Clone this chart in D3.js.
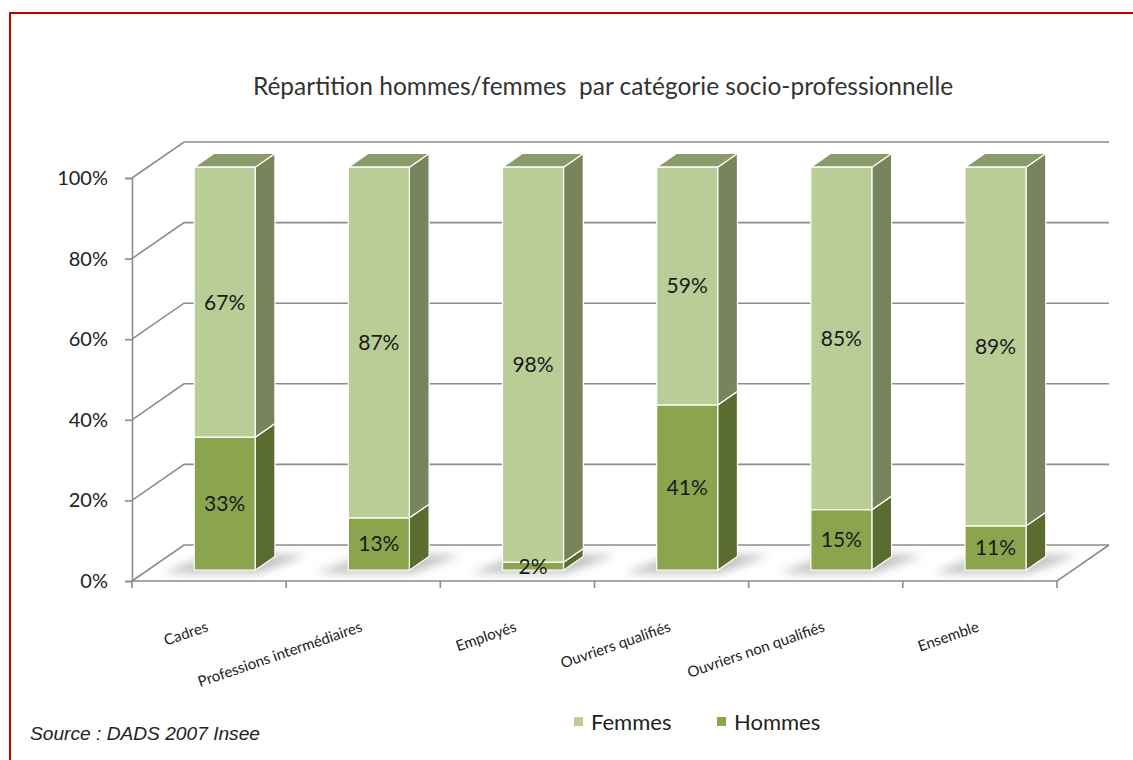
<!DOCTYPE html>
<html>
<head>
<meta charset="utf-8">
<script src="https://cdn.jsdelivr.net/npm/d3@7"></script>
<style>
  body { margin: 0; background: #fff; }
  svg { display: block; }
</style>
</head>
<body>
<svg id="chart" width="1133" height="760"></svg>
<script>
// data
const categories = ["Cadres", "Professions intermédiaires", "Employés", "Ouvriers qualifiés", "Ouvriers non qualifiés", "Ensemble"];
const hommes = [33, 13, 2, 41, 15, 11];
const femmes = [67, 87, 98, 59, 85, 89];
const yTicks = [0, 20, 40, 60, 80, 100];
const seriesNames = ["Femmes", "Hommes"];
const title = "Répartition hommes/femmes  par catégorie socio-professionnelle";
const source = "Source : DADS 2007 Insee";

// colours for each series: front, side, top
const palette = {
  Hommes: { front: "#8ba54e", side: "#5b6c30", top: "#7a9244" },
  Femmes: { front: "#b9cd96", side: "#77845c", top: "#8a9a6b" }
};

const font = "Lato, 'Noto Sans', sans-serif";
const svg = d3.select("#chart");

// the depth of the 3d box: back wall is offset by (DX, DY)
const DX = 52, DY = -36;
const zFront = 0.3, zBack = 0.68;
const barWidth = 61;

const xScale = d3.scaleBand().domain(categories).range([132, 1057]);
const yScale = d3.scaleLinear().domain([0, 100]).range([581, 178]);

const proj = (x, v, z) => [x + z * DX, yScale(v) + z * DY];
const pts = arr => arr.map(p => p.join(",")).join(" ");

// red frame
svg.append("rect")
  .attr("x", 10).attr("y", 13)
  .attr("width", 1140).attr("height", 760)
  .attr("fill", "none")
  .attr("stroke", "#c00000")
  .attr("stroke-width", 2);

// title
svg.append("text")
  .attr("x", 603).attr("y", 95)
  .attr("text-anchor", "middle")
  .attr("font-family", font)
  .attr("font-size", 24.5)
  .attr("fill", "#333")
  .style("white-space", "pre")
  .text(title);

const gridColor = "#8c8c8c";
const grid = svg.append("g").attr("stroke", gridColor).attr("stroke-width", 1.6).attr("fill", "none");

const x0 = xScale.range()[0], x1 = xScale.range()[1];

// side wall diagonals and back wall gridlines
yTicks.forEach(t => {
  grid.append("polyline").attr("points", pts([proj(x0, t, 0), proj(x0, t, 1), proj(x1, t, 1)]));
});
// floor front edge + right edge
grid.append("polyline")
  .attr("points", pts([proj(x0, 0, 0), proj(x1, 0, 0), proj(x1, 0, 1)]));

// left axis
const yAxis = d3.axisLeft(yScale)
  .tickValues(yTicks)
  .tickSize(7)
  .tickPadding(17)
  .tickFormat(d => d + "%");

const yAxisG = svg.append("g")
  .attr("transform", `translate(${x0},0)`)
  .call(yAxis);
yAxisG.select(".domain").attr("stroke", gridColor).attr("stroke-width", 1.6);
yAxisG.selectAll(".tick line").attr("stroke", gridColor).attr("stroke-width", 1.6);
yAxisG.selectAll(".tick text")
  .attr("font-family", font)
  .attr("font-size", 20)
  .attr("fill", "#222");

// bottom ticks at the band boundaries
const bounds = categories.map(c => xScale(c)).concat([x1]);
grid.selectAll("line.xtick")
  .data(bounds)
  .join("line")
  .attr("class", "xtick")
  .attr("x1", d => d).attr("x2", d => d)
  .attr("y1", yScale(0)).attr("y2", yScale(0) + 7);

// shadows
const defs = svg.append("defs");
defs.append("filter").attr("id", "blur")
  .attr("x", "-50%").attr("y", "-50%").attr("width", "200%").attr("height", "200%")
  .append("feGaussianBlur").attr("stdDeviation", 5);

const bars = categories.map((c, i) => {
  const cx = xScale(c) + xScale.bandwidth() / 2;
  return {
    category: c,
    left: cx - barWidth / 2,
    right: cx + barWidth / 2,
    segments: [
      { name: "Hommes", y0: 0, y1: hommes[i] },
      { name: "Femmes", y0: hommes[i], y1: hommes[i] + femmes[i] }
    ]
  };
});

svg.append("g")
  .selectAll("polygon")
  .data(bars)
  .join("polygon")
  .attr("points", d => pts([
    proj(d.left - 28, 0, 0.22), proj(d.right + 6, 0, 0.22),
    proj(d.right + 30, 0, 0.72), proj(d.left - 4, 0, 0.72)
  ]))
  .attr("fill", "#8a8a8a")
  .attr("opacity", 0.55)
  .attr("filter", "url(#blur)");

// 3d bars
const barG = svg.append("g").attr("stroke", "#fff").attr("stroke-width", 1.2).attr("stroke-linejoin", "round");

bars.forEach(b => {
  const g = barG.append("g");
  b.segments.forEach(s => {
    const col = palette[s.name];
    // side face
    g.append("polygon")
      .attr("fill", col.side)
      .attr("points", pts([proj(b.right, s.y0, zFront), proj(b.right, s.y0, zBack), proj(b.right, s.y1, zBack), proj(b.right, s.y1, zFront)]));
    // top face
    g.append("polygon")
      .attr("fill", col.top)
      .attr("points", pts([proj(b.left, s.y1, zFront), proj(b.right, s.y1, zFront), proj(b.right, s.y1, zBack), proj(b.left, s.y1, zBack)]));
    // front face
    g.append("polygon")
      .attr("fill", col.front)
      .attr("points", pts([proj(b.left, s.y0, zFront), proj(b.right, s.y0, zFront), proj(b.right, s.y1, zFront), proj(b.left, s.y1, zFront)]));
  });
});

// data labels
const labels = bars.flatMap(b => b.segments.map(s => ({
  x: proj((b.left + b.right) / 2, 0, zFront)[0],
  y: proj(0, (s.y0 + s.y1) / 2, zFront)[1],
  v: s.y1 - s.y0
})));

svg.append("g")
  .selectAll("text")
  .data(labels)
  .join("text")
  .attr("x", d => d.x)
  .attr("y", d => d.y)
  .attr("dy", "0.35em")
  .attr("text-anchor", "middle")
  .attr("font-family", font)
  .attr("font-size", 21)
  .attr("fill", "#1a1a1a")
  .text(d => d.v + "%");

// category labels, rotated
svg.append("g")
  .selectAll("text")
  .data(categories)
  .join("text")
  .attr("transform", d => `translate(${xScale(d) + xScale.bandwidth() / 2},631) rotate(-19)`)
  .attr("text-anchor", "end")
  .attr("font-family", font)
  .attr("font-size", 15)
  .attr("fill", "#222")
  .text(d => d);

// legend
const legend = svg.append("g")
  .selectAll("g")
  .data(seriesNames)
  .join("g")
  .attr("transform", (d, i) => `translate(${574 + i * 143},717)`);
legend.append("rect")
  .attr("width", 9).attr("height", 9)
  .attr("fill", d => palette[d].front);
legend.append("text")
  .attr("x", 17).attr("y", 5)
  .attr("dy", "0.35em")
  .attr("font-family", font)
  .attr("font-size", 22)
  .attr("fill", "#222")
  .text(d => d);

// source
svg.append("text")
  .attr("x", 30).attr("y", 740)
  .attr("font-family", "'Liberation Sans', Arial, sans-serif")
  .attr("font-style", "italic")
  .attr("font-size", 18)
  .attr("textLength", 230)
  .attr("lengthAdjust", "spacingAndGlyphs")
  .attr("fill", "#222")
  .text(source);
</script>
</body>
</html>
